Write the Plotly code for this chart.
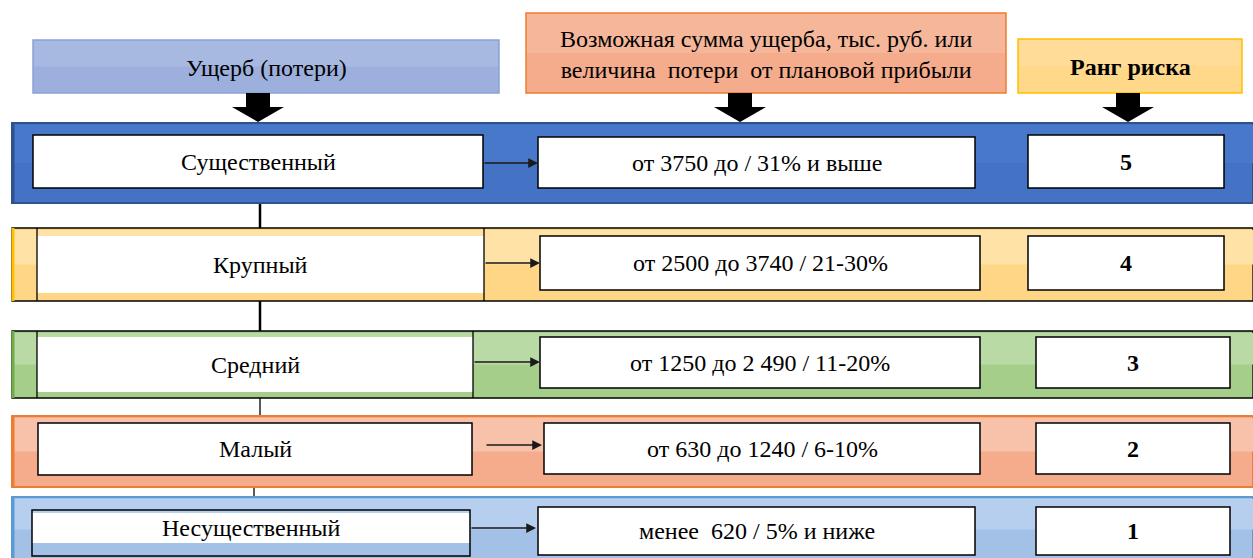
import plotly.graph_objects as go

# ---- data ----
categories = ["Существенный", "Крупный", "Средний", "Малый", "Несущественный"]
loss_ranges = ["от 3750 до / 31% и выше", "от 2500 до 3740 / 21-30%",
               "от 1250 до 2 490 / 11-20%", "от 630 до 1240 / 6-10%",
               "менее  620 / 5% и ниже"]
ranks = [5, 4, 3, 2, 1]
headers = ["Ущерб (потери)",
           "Возможная сумма ущерба, тыс. руб. или<br>величина  потери  от плановой прибыли",
           "<b>Ранг риска</b>"]

# ---- layout constants (pixel space) ----
W, H = 1253, 558
FONT = "'Liberation Serif', 'Times New Roman', serif"
FS = 24

header_boxes = [(33, 40, 499, 93), (526, 13, 1006, 93), (1018, 39, 1242, 93)]
header_fill = ["#9DB0DD", "#F4AC8C", "#FFD88A"]
header_line = ["#8AA3D8", "#ED7D31", "#FFC000"]
header_arrow_x = [258, 740, 1128]

band = [(12, 123, 1253, 203), (12, 228, 1253, 301), (12, 331, 1253, 398),
        (12, 416, 1253, 487), (12, 497, 1253, 562)]
band_fill = ["#4472C4", "#FFD685", "#A5CE8A", "#F5AC8C", "#A3C1E7"]
band_top = ["#4878CA", "#FFE3A6", "#B9DAA4", "#F8C2AA", "#B6CFEE"]
band_line = ["#2F528F", "#000000", "#000000", "#ED7D31", "#5B9BD5"]
band_left = ["#2F528F", "#FFC000", "#70AD47", "#ED7D31", "#5B9BD5"]
label_box = [(33, 135, 483, 188), (37, 228, 484, 301), (37, 331, 473, 398),
             (38, 423, 472, 475), (32, 510, 470, 556)]
label_white = [(33, 135, 483, 188), (37, 236, 484, 293), (37, 337, 473, 392),
               (38, 423, 472, 475), (32, 513, 470, 543)]
range_box = [(538, 137, 975, 188), (540, 236, 980, 290), (540, 337, 980, 388),
             (544, 423, 980, 474), (538, 507, 975, 555)]
rank_box = [(1028, 135, 1224, 188), (1028, 236, 1224, 290), (1036, 337, 1230, 388),
            (1036, 423, 1230, 474), (1036, 507, 1230, 555)]
link_arrow = [(483, 538, 163), (484, 540, 263), (473, 540, 362),
              (485, 542, 445), (470, 536, 528)]
connectors = [(260, 203, 228, 2.5), (260, 301, 331, 2.5), (260, 398, 416, 1.3),
              (254, 487, 497, 1.3)]

shapes = []
annotations = []


def rect(b, fill, line="rgba(0,0,0,0)", lw=0):
    shapes.append(dict(type="rect", xref="x", yref="y", x0=b[0], y0=b[1], x1=b[2], y1=b[3],
                       fillcolor=fill, line=dict(color=line, width=lw), layer="above"))


def seg(x0, y0, x1, y1, color="#000000", lw=1.3):
    shapes.append(dict(type="line", xref="x", yref="y", x0=x0, y0=y0, x1=x1, y1=y1,
                       line=dict(color=color, width=lw), layer="above"))


def text(x, y, s, size=FS):
    annotations.append(dict(x=x, y=y, xref="x", yref="y", text=s, showarrow=False,
                            font=dict(family=FONT, size=size, color="#000000"),
                            xanchor="center", yanchor="middle"))


# headers
for i, b in enumerate(header_boxes):
    rect(b, header_fill[i], header_line[i], 1.5)
    rect((b[0] + 1, b[1] + 1, b[2] - 1, (b[1] + b[3]) / 2),
         "rgba(255,255,255,0.12)")
    text((b[0] + b[2]) / 2, (b[1] + b[3]) / 2 + 1, headers[i])

# block arrows from headers
for cx in header_arrow_x:
    sw, hw, y0, yh, yt = 12, 26, 93, 107, 122
    path = (f"M {cx - sw} {y0} L {cx + sw} {y0} L {cx + sw} {yh} L {cx + hw} {yh} "
            f"L {cx} {yt} L {cx - hw} {yh} L {cx - sw} {yh} Z")
    shapes.append(dict(type="path", xref="x", yref="y", path=path,
                       fillcolor="#000000", line=dict(width=0), layer="above"))

# connectors
for cx, y0, y1, lw in connectors:
    seg(cx, y0, cx, y1, lw=lw)

# rows
for i in range(len(categories)):
    b = band[i]
    rect(b, band_fill[i], band_line[i], 2 if i in (0, 3, 4) else 1.3)
    rect((b[0] + 2, b[1] + 2, b[2], (b[1] + b[3]) / 2), band_top[i])
    seg(b[0] + 1, b[1], b[0] + 1, b[3], band_left[i], 3)

    rect(label_white[i], "#FFFFFF")
    lb = label_box[i]
    if i in (1, 2):
        seg(lb[0], lb[1], lb[0], lb[3], lw=1.3)
        seg(lb[2], lb[1], lb[2], lb[3], lw=1.3)
    else:
        rect(lb, "rgba(0,0,0,0)", "#000000", 1.5)
    if i == 4:
        rect((lb[0] + 1, 543, lb[2] - 1, lb[3] - 1), "#A3C1E7")
    text((lb[0] + lb[2]) / 2, (label_white[i][1] + label_white[i][3]) / 2,
         categories[i])

    rb = range_box[i]
    rect(rb, "#FFFFFF", "#000000", 1.5)
    text((rb[0] + rb[2]) / 2, (rb[1] + rb[3]) / 2, loss_ranges[i])

    kb = rank_box[i]
    rect(kb, "#FFFFFF", "#000000", 1.5)
    text((kb[0] + kb[2]) / 2, (kb[1] + kb[3]) / 2, f"<b>{ranks[i]}</b>")

    ax0, ax1, ay = link_arrow[i]
    annotations.append(dict(x=ax1, y=ay, ax=ax0, ay=ay, xref="x", yref="y",
                            axref="x", ayref="y", text="", showarrow=True,
                            arrowhead=2, arrowsize=1.3, arrowwidth=1.5,
                            arrowcolor="#1a1a1a"))

fig = go.Figure()
fig.update_layout(
    width=W, height=H, margin=dict(l=0, r=0, t=0, b=0),
    paper_bgcolor="#FFFFFF", plot_bgcolor="#FFFFFF",
    xaxis=dict(range=[0, W], visible=False, fixedrange=True),
    yaxis=dict(range=[H, 0], visible=False, fixedrange=True),
    shapes=shapes, annotations=annotations, showlegend=False,
)
fig.write_html("out.html", config={"displayModeBar": False},
               post_script="document.body.style.margin='0';"
                           "document.body.style.overflow='hidden';")
